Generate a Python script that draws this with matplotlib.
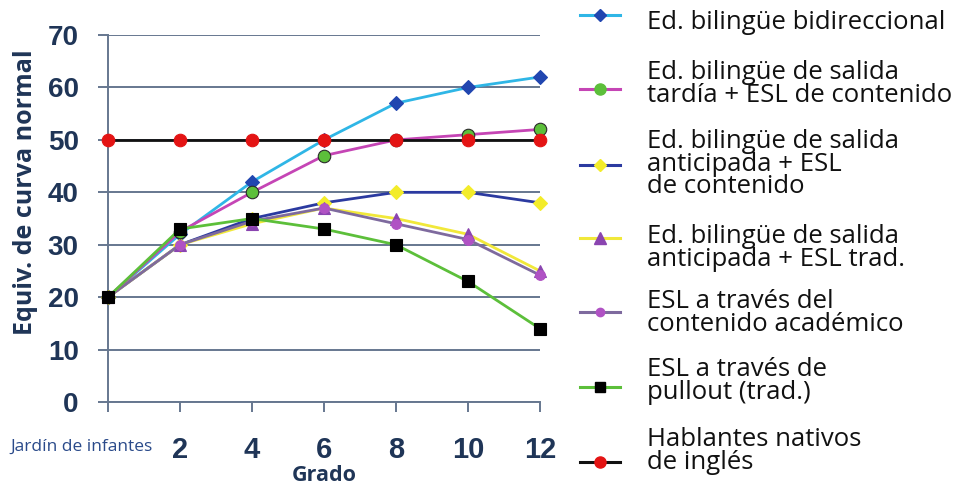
import matplotlib
matplotlib.use("Agg")
import matplotlib.pyplot as plt
from matplotlib.lines import Line2D

grades = [0, 2, 4, 6, 8, 10, 12]
tick_labels = ["", "2", "4", "6", "8", "10", "12"]
first_label = "Jardín de infantes"

bidireccional = [20, 32, 42, 50, 57, 60, 62]
tardia_esl_cont = [20, 32.5, 40, 47, 50, 51, 52]
anticipada_esl_cont = [20, 30, 35, 38, 40, 40, 38]
anticipada_esl_trad = [20, 30, 34, 37, 35, 32, 25]
esl_contenido = [20, 30, 34.5, 37, 34, 31, 24.2]
esl_pullout = [20, 33, 35, 33, 30, 23, 14]
nativos = [50, 50, 50, 50, 50, 50, 50]

labels = [
    "Ed. bilingüe bidireccional",
    "Ed. bilingüe de salida\ntardía + ESL de contenido",
    "Ed. bilingüe de salida\nanticipada + ESL\nde contenido",
    "Ed. bilingüe de salida\nanticipada + ESL trad.",
    "ESL a través del\ncontenido académico",
    "ESL a través de\npullout (trad.)",
    "Hablantes nativos\nde inglés",
]

series = [bidireccional, tardia_esl_cont, anticipada_esl_cont,
          anticipada_esl_trad, esl_contenido, esl_pullout, nativos]
styles = [
    dict(color="#2fb6e6", marker="D", mfc="#2146b0", mec="#2146b0", ms=7),
    dict(color="#c545b5", marker="o", mfc="#5cbf3a", mec="#2a2a2a", ms=9),
    dict(color="#2b3aa0", marker="D", mfc="#f3ec2a", mec="#f3ec2a", ms=7),
    dict(color="#f1e83a", marker="^", mfc="#8a44b0", mec="#8a44b0", ms=9),
    dict(color="#7e6a9e", marker="o", mfc="#b052c4", mec="#b052c4", ms=7),
    dict(color="#5cbf3a", marker="s", mfc="#000000", mec="#000000", ms=8),
    dict(color="#111111", marker="o", mfc="#e41414", mec="#e41414", ms=9),
]

navy = "#1f3557"
grid_c = "#66778f"

fig = plt.figure(figsize=(9.54, 4.87), dpi=100)
ax = fig.add_axes([0.1132, 0.1745, 0.4528, 0.7535])

ax.set_xlim(0, 12)
ax.set_ylim(0, 70)
ax.set_yticks(range(0, 71, 10))
ax.yaxis.grid(True, color=grid_c, linewidth=1.4)
ax.set_axisbelow(True)

zorders = [3, 4, 3, 3, 3, 5, 6]
for ys, st, z in zip(series, styles, zorders):
    ax.plot(grades, ys, linewidth=2.0, zorder=z, clip_on=False,
            marker=st["marker"], color=st["color"], markerfacecolor=st["mfc"],
            markeredgecolor=st["mec"], markersize=st["ms"], markeredgewidth=0.8)

for s in ["top", "right"]:
    ax.spines[s].set_visible(False)
for s in ["left", "bottom"]:
    ax.spines[s].set_color(grid_c)
    ax.spines[s].set_linewidth(1.4)

ax.set_xticks(grades)
ax.set_xticklabels(tick_labels)
ax.tick_params(axis="x", direction="out", length=7, width=1.4, color=grid_c,
               pad=17.5, labelsize=21, labelcolor=navy)
ax.tick_params(axis="y", direction="out", length=7, width=1.4, color=grid_c,
               pad=14, labelsize=20, labelcolor=navy)
for t in ax.get_xticklabels() + ax.get_yticklabels():
    t.set_fontfamily("Liberation Sans")
    t.set_fontweight("bold")

ax.annotate(first_label, xy=(0, 0), xycoords="data", xytext=(-19, -32),
            textcoords="offset points", ha="center", va="center",
            fontsize=12.5, color="#2a4a8a", family="Open Sans")

ax.set_ylabel("Equiv. de curva normal", fontsize=18, fontweight="bold",
              color=navy, family="Open Sans")
ax.yaxis.set_label_coords(-0.162, 0.572)
ax.set_xlabel("Grado", fontsize=15.5, fontweight="bold", color=navy,
              family="Open Sans")
ax.xaxis.set_label_coords(0.5, -0.2)
ax.xaxis.label.set_va("center")

# legend (manual layout)
W, H = 954, 487
marker_y = [15, 89, 165, 238, 312, 387, 462]
text_top = [10, 60, 129, 224, 289, 357, 427]
for st, lab, my, ty in zip(styles, labels, marker_y, text_top):
    fig.add_artist(Line2D([580 / W, 620 / W], [1 - my / H, 1 - my / H],
                          color=st["color"], linewidth=2.2,
                          transform=fig.transFigure))
    fig.add_artist(Line2D([600 / W], [1 - my / H], marker=st["marker"],
                          markerfacecolor=st["mfc"], markeredgecolor=st["mfc"],
                          markersize=st["ms"] - 1, linestyle="none",
                          transform=fig.transFigure))
    fig.text(647 / W, 1 - ty / H, lab, ha="left", va="top", fontsize=18.5,
             family="Open Sans", color="#111111", linespacing=0.87)

fig.savefig("out.png", dpi=100)
